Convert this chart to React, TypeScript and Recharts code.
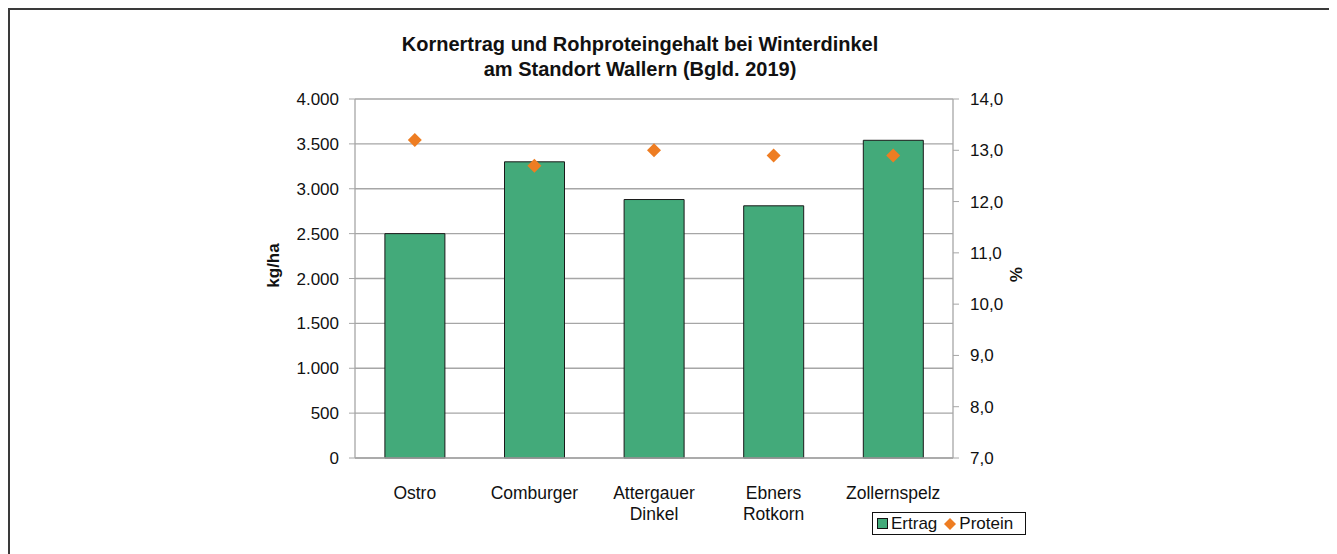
import React from 'react';
import {
  ComposedChart,
  Bar,
  Scatter,
  XAxis,
  YAxis,
  CartesianGrid,
  Legend,
  Label,
} from 'recharts';

const categories: string[][] = [
  ['Ostro'],
  ['Comburger'],
  ['Attergauer', 'Dinkel'],
  ['Ebners', 'Rotkorn'],
  ['Zollernspelz'],
];
const ertrag: number[] = [2500, 3300, 2880, 2810, 3540];
const protein: number[] = [13.2, 12.7, 13.0, 12.9, 12.9];
const leftTicks: number[] = [0, 500, 1000, 1500, 2000, 2500, 3000, 3500, 4000];
const rightTicks: number[] = [7, 8, 9, 10, 11, 12, 13, 14];
const boundaryTicks: number[] = [0, 1, 2, 3, 4, 5];
const titleLines: string[] = [
  'Kornertrag und Rohproteingehalt bei Winterdinkel',
  'am Standort Wallern (Bgld. 2019)',
];

const data = categories.map((c, i) => ({
  name: c.join('\n'),
  ertrag: ertrag[i],
  protein: protein[i],
}));

const FONT = '"Liberation Sans", Arial, Helvetica, sans-serif';
const GREEN = '#43AA7A';
const ORANGE = '#EE7D22';
const GRID = '#a6a6a6';

const fmtLeft = (v: number) =>
  v >= 1000 ? `${Math.floor(v / 1000)}.${String(v % 1000).padStart(3, '0')}` : String(v);
const fmtRight = (v: number) => v.toFixed(1).replace('.', ',');

const CatTick = (props: any) => {
  const { x, y, payload } = props;
  const lines = String(payload.value).split('\n');
  return (
    <text x={x} y={y} textAnchor="middle" fill="#111" fontSize={17.5} fontFamily={FONT}>
      {lines.map((l, i) => (
        <tspan key={i} x={x} dy={i === 0 ? 25 : 21}>
          {l}
        </tspan>
      ))}
    </text>
  );
};

const Diamond = (props: any) => {
  const { cx, cy } = props;
  if (cx == null || cy == null) return null;
  const r = 7;
  return (
    <polygon
      points={`${cx},${cy - r} ${cx + r},${cy} ${cx},${cy + r} ${cx - r},${cy}`}
      fill={ORANGE}
    />
  );
};

const LegendBox = () => (
  <div
    style={{
      border: '1px solid #111',
      height: 21,
      width: 152,
      display: 'flex',
      alignItems: 'center',
      fontFamily: FONT,
      fontSize: 17,
      color: '#111',
      boxSizing: 'content-box',
      background: '#fff',
    }}
  >
    <span
      style={{
        display: 'inline-block',
        width: 9,
        height: 9,
        background: GREEN,
        border: '1px solid #111',
        marginLeft: 4,
        marginRight: 3,
      }}
    />
    <span>Ertrag</span>
    <svg width={14} height={14} style={{ marginLeft: 6, marginRight: 2 }}>
      <polygon points="7,1 13,7 7,13 1,7" fill={ORANGE} />
    </svg>
    <span>Protein</span>
  </div>
);

export default function App() {
  return (
    <div
      style={{
        position: 'relative',
        width: 1320,
        height: 560,
        border: '2px solid #3a3a3a',
        background: '#fff',
        fontFamily: FONT,
      }}
    >
      <div
        style={{
          position: 'absolute',
          left: 0,
          top: 22,
          width: 1260,
          textAlign: 'center',
          fontWeight: 'bold',
          fontSize: 20,
          lineHeight: '25px',
          color: '#111',
          fontFamily: FONT,
          zIndex: 2,
        }}
      >
        {titleLines.map((t, i) => (
          <div key={i}>{t}</div>
        ))}
      </div>
      <ComposedChart
        width={1320}
        height={560}
        data={data}
        margin={{ top: 89, left: 285, right: 317, bottom: 44 }}
        barCategoryGap="25%"
      >
        <CartesianGrid
          yAxisId="left"
          xAxisId="cat"
          vertical={false}
          stroke={GRID}
          strokeWidth={1.3}
        />
        <XAxis
          xAxisId="b"
          type="number"
          domain={[0, 5]}
          ticks={boundaryTicks}
          tick={false}
          tickSize={6}
          tickLine={{ stroke: '#999', strokeWidth: 1.2 }}
          axisLine={{ stroke: GRID, strokeWidth: 1.3 }}
          height={8}
          allowDataOverflow
        />
        <XAxis
          xAxisId="cat"
          dataKey="name"
          type="category"
          interval={0}
          tick={<CatTick />}
          tickLine={false}
          axisLine={false}
          height={60}
        />
        <YAxis
          yAxisId="left"
          orientation="left"
          domain={[0, 4000]}
          ticks={leftTicks}
          tickFormatter={fmtLeft}
          width={60}
          tickSize={6}
          tickMargin={10}
          interval={0}
          axisLine={{ stroke: GRID, strokeWidth: 1.3 }}
          tickLine={{ stroke: GRID }}
          tick={{ fill: '#111', fontSize: 17, fontFamily: FONT }}
        >
          <Label
            content={(p: any) => {
              const vb = p.viewBox || {};
              const x = vb.x - 22;
              const y = vb.y + vb.height / 2 - 13;
              return (
                <text
                  x={x}
                  y={y}
                  transform={`rotate(-90 ${x} ${y})`}
                  textAnchor="middle"
                  dominantBaseline="central"
                  fontWeight="bold"
                  fontSize={17}
                  fontFamily={FONT}
                  fill="#111"
                >
                  kg/ha
                </text>
              );
            }}
          />
        </YAxis>
        <YAxis
          yAxisId="right"
          orientation="right"
          domain={[7, 14]}
          ticks={rightTicks}
          tickFormatter={fmtRight}
          width={60}
          tickSize={6}
          tickMargin={11}
          interval={0}
          axisLine={{ stroke: GRID, strokeWidth: 1.3 }}
          tickLine={{ stroke: GRID }}
          tick={{ fill: '#111', fontSize: 17, fontFamily: FONT }}
        >
          <Label
            content={(p: any) => {
              const vb = p.viewBox || {};
              const x = vb.x + 62;
              const y = vb.y + vb.height / 2 - 4;
              return (
                <text
                  x={x}
                  y={y}
                  transform={`rotate(90 ${x} ${y})`}
                  textAnchor="middle"
                  dominantBaseline="central"
                  fontWeight="bold"
                  fontSize={17}
                  fontFamily={FONT}
                  fill="#111"
                >
                  %
                </text>
              );
            }}
          />
        </YAxis>
        <Bar
          xAxisId="cat"
          yAxisId="left"
          dataKey="ertrag"
          name="Ertrag"
          fill={GREEN}
          stroke="#1a1a1a"
          strokeWidth={1}
          isAnimationActive={false}
        />
        <Scatter
          xAxisId="cat"
          yAxisId="right"
          dataKey="protein"
          name="Protein"
          shape={<Diamond />}
          isAnimationActive={false}
        />
        <Legend
          layout="horizontal"
          verticalAlign="middle"
          align="center"
          wrapperStyle={{ left: 862, top: 502, width: 156 }}
          content={() => <LegendBox />}
        />
      </ComposedChart>
    </div>
  );
}
